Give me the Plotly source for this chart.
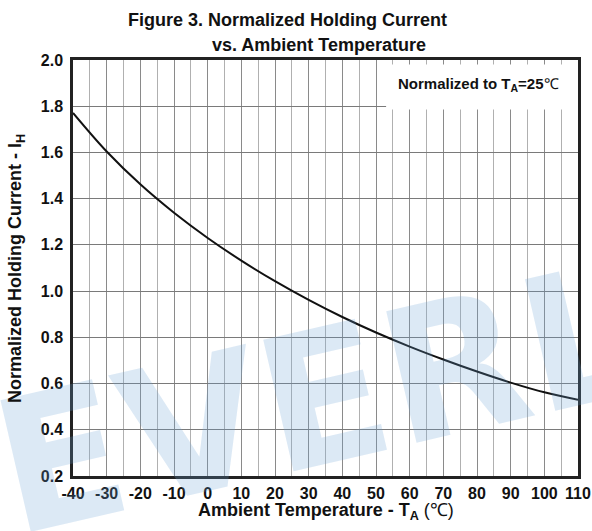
import plotly.graph_objects as go

# Data
temps = [-40, -30, -20, -10, 0, 10, 20, 30, 40, 50, 60, 70, 80, 90, 100, 110]
ih_norm = [1.771, 1.604, 1.462, 1.339, 1.230, 1.132, 1.043, 0.962, 0.888, 0.821,
           0.760, 0.704, 0.652, 0.604, 0.562, 0.530]
x_ticks = [-40, -30, -20, -10, 0, 10, 20, 30, 40, 50, 60, 70, 80, 90, 100, 110]
y_ticks = [0.2, 0.4, 0.6, 0.8, 1.0, 1.2, 1.4, 1.6, 1.8, 2.0]

FONT = "Liberation Sans, Arial, sans-serif"

fig = go.Figure()
fig.add_trace(go.Scatter(
    x=temps, y=ih_norm, mode="lines",
    line=dict(color="#111111", width=2, shape="spline", smoothing=1.0),
    showlegend=False, hoverinfo="skip"))

fig.update_layout(
    width=592, height=531,
    margin=dict(l=73, r=14, t=60, b=55, autoexpand=False),
    paper_bgcolor="white", plot_bgcolor="white",
    font=dict(family=FONT, color="#111111"),
)

fig.update_xaxes(
    range=[-40, 110], tickvals=x_ticks,
    ticktext=[f"<b>{v}</b>" for v in x_ticks],
    tickfont=dict(size=16, family=FONT, color="#111"),
    showgrid=True, gridcolor="#8a8a8a", gridwidth=1,
    minor=dict(dtick=5, tick0=-40, showgrid=True, gridcolor="#b0b0b0", gridwidth=1),
    showline=True, linecolor="#222", linewidth=2.5, mirror=True,
    ticks="", zeroline=False, ticklabelstandoff=1,
)
fig.update_yaxes(
    range=[0.2, 2.0], tickvals=y_ticks,
    ticktext=[f"<b>{v:.1f}</b>" for v in y_ticks],
    tickfont=dict(size=16, family=FONT, color="#111"),
    showgrid=True, gridcolor="#7a7a7a", gridwidth=1,
    showline=True, linecolor="#222", linewidth=2.5, mirror=True,
    ticks="", zeroline=False, ticklabelstandoff=4,
)

# White legend-like box in the upper right
fig.add_shape(type="rect", xref="x", yref="y", x0=53, x1=110, y0=1.786, y1=1.98,
              fillcolor="white", line=dict(width=0), layer="between")

C = dict(xanchor="center", yanchor="middle", showarrow=False)
annotations = [
    dict(text="<b>EVERLIGHT</b>", xref="paper", yref="paper",
         x=0.972, y=0.32, textangle=-13,
         font=dict(size=185, family="DejaVu Sans, sans-serif",
                   color="rgba(110,165,215,0.24)"), **C),
    dict(text="<b>Figure 3. Normalized Holding Current</b>", xref="paper", yref="paper",
         x=0.424, y=1.095, font=dict(size=18, family=FONT, color="#111"), **C),
    dict(text="<b>vs. Ambient Temperature</b>", xref="paper", yref="paper",
         x=0.487, y=1.035, font=dict(size=18, family=FONT, color="#111"), **C),
    dict(text="<b>Normalized to T<sub>A</sub>=25</b>℃", xref="x", yref="y",
         x=80.4, y=1.894, font=dict(size=15, family=FONT, color="#111"), **C),
    dict(text="<b>Ambient Temperature - T<sub>A</sub></b> (℃)", xref="paper", yref="paper",
         x=0.501, y=-0.085, font=dict(size=18, family=FONT, color="#111"), **C),
    dict(text="<b>Normalized Holding Current - I<sub>H</sub></b>", xref="paper", yref="paper",
         x=-0.113, y=0.5, textangle=-90,
         font=dict(size=18, family=FONT, color="#111"), **C),
]
fig.update_layout(annotations=annotations)

fig.write_html(
    "out.html",
    config={"displayModeBar": False},
    post_script="document.body.style.margin='0';document.body.style.overflow='hidden';",
)
